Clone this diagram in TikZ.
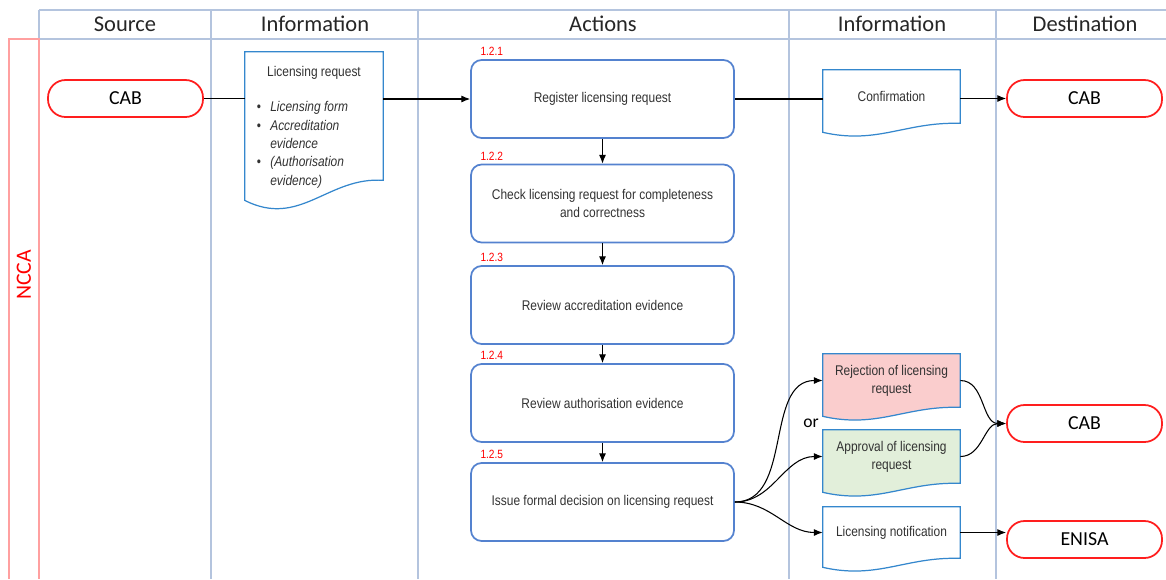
\documentclass[tikz,border=0pt]{standalone}
\usepackage{fontspec}
\setmainfont{Carlito}
\newfontfamily\narrowfont[FakeStretch=0.85]{Liberation Sans}
\usepackage{tikz}
\usetikzlibrary{arrows.meta, positioning, calc, backgrounds}

\definecolor{lanecol}{RGB}{180,196,222}
\definecolor{lanered}{RGB}{255,160,160}
\definecolor{boxblue}{RGB}{84,130,207}
\definecolor{docblue}{RGB}{52,135,205}
\definecolor{termred}{RGB}{255,30,30}
\definecolor{rejfill}{RGB}{250,205,205}
\definecolor{appfill}{RGB}{226,239,218}
\definecolor{txtgray}{RGB}{50,50,50}

\tikzset{
  lane/.style={draw=lanecol, line width=0.8pt},
  actbox/.style={draw=boxblue, line width=1pt, rounded corners=6pt, minimum width=5.26cm, minimum height=1.56cm, align=center, text=txtgray, font=\narrowfont\fontsize{8}{10.4}\selectfont},
  terminal/.style={draw=termred, line width=1pt, rounded corners=10pt, minimum width=3.1cm, minimum height=0.74cm, font=\fontsize{11.3}{13}\selectfont},
  docbox/.style={minimum width=2.74cm, inner sep=0pt, align=center, text=txtgray, font=\narrowfont\fontsize{8}{10.4}\selectfont},
  docline/.style={draw=docblue, line width=0.7pt},
  steplbl/.style={text=red, inner sep=0pt, font=\narrowfont\fontsize{6.8}{8}\selectfont},
  colhead/.style={text=black!85, font=\fontsize{12.8}{15}\selectfont},
  flow/.style={-{Latex[length=5pt,width=4pt]}, line width=0.6pt},
  plain/.style={line width=0.6pt}
}

% document outline with a wavy bottom: node, fill, wave depth
\newcommand{\docshape}[3]{%
  \begin{pgfonlayer}{background}
  \draw[docline, fill=#2] let \p1=(#1.south west), \p2=(#1.north east) in
    (#1.north west) -- (#1.north east) -- (#1.south east)
    .. controls ({\x1+0.6*(\x2-\x1)},{\y1+0.2*#3}) and ({\x1+0.4*(\x2-\x1)},{\y1-2.4*#3}) .. (\x1,{\y1-#3}) -- cycle;
  \end{pgfonlayer}}

\begin{document}
\begin{tikzpicture}[x=0.02cm, y=-0.02cm]
  \useasboundingbox (0,0) rectangle (1166,579);

  % lanes
  \draw[lane] (39,10) -- (1166,10);
  \draw[lane] (39,39) -- (1166,39);
  \draw[lane] (39,10) -- (39,39);
  \foreach \cx in {211,418,789,996}
    \draw[lane] (\cx,10) -- (\cx,579);
  \draw[draw=lanered, line width=0.8pt] (9,579) -- (9,39) -- (39,39) -- (39,579);

  \node[colhead] (hsrc) at (125,24) {Source};
  \node[colhead] (hinf1) at (315,24) {Information};
  \node[colhead] (hact) at (603,24) {Actions};
  \node[colhead] (hinf2) at (892,24) {Information};
  \node[colhead] (hdst) at (1085,24) {Destination};
  \node[text=red, rotate=90, font=\fontsize{12.4}{14}\selectfont] (ncca) at (24,275) {NCCA};

  % source and destinations
  \node[terminal] (src) at (125.5,98.5) {CAB};
  \node[terminal] (dcab1) at (1084.5,98.5) {CAB};
  \node[terminal] (dcab2) at (1084.5,423.5) {CAB};
  \node[terminal] (enisa) at (1084.5,539.5) {ENISA};

  % actions
  \node[actbox] (act1) at (602.5,99) {Register licensing request};
  \node[actbox] (act2) at (602.5,203.5) {Check licensing request for completeness\\and correctness};
  \node[actbox] (act3) at (602.5,305) {Review accreditation evidence};
  \node[actbox] (act4) at (602.5,403) {Review authorisation evidence};
  \node[actbox] (act5) at (602.5,502) {Issue formal decision on licensing request};

  \node[steplbl, above right=1.7pt and 0.2cm of act1.north west] (n1) {1.2.1};
  \node[steplbl, above right=1.7pt and 0.2cm of act2.north west] (n2) {1.2.2};
  \node[steplbl, above right=1.7pt and 0.2cm of act3.north west] (n3) {1.2.3};
  \node[steplbl, above right=1.7pt and 0.2cm of act4.north west] (n4) {1.2.4};
  \node[steplbl, above right=1.7pt and 0.2cm of act5.north west] (n5) {1.2.5};

  % information
  \node[docbox, minimum width=2.76cm, minimum height=2.56cm] (lreq) at (314,116) {\parbox[c][2.56cm][t]{2.76cm}{%
    \centering\vspace*{8.3pt}Licensing request\par\vspace{9.6pt}
    \raggedright\hspace*{6.8pt}\begin{tabular}[t]{@{}l@{\hspace{5.2pt}}l@{}}
      \textbullet & \textit{Licensing form}\\
      \textbullet & \textit{Accreditation}\\
                  & \textit{evidence}\\
      \textbullet & \textit{(Authorisation}\\
                  & \textit{evidence)}
    \end{tabular}}};
  \docshape{lreq}{white}{11.4pt}
  \node[docbox, minimum height=1.06cm] (conf) at (891.5,96.5) {Confirmation};
  \docshape{conf}{white}{5.1pt}
  \node[docbox, minimum height=1.06cm] (rej) at (891.5,380.5) {Rejection of licensing\\request};
  \docshape{rej}{rejfill}{5.1pt}
  \node[docbox, minimum height=1.06cm] (appr) at (891.5,456.5) {Approval of licensing\\request};
  \docshape{appr}{appfill}{5.1pt}
  \node[docbox, minimum height=1.02cm] (notif) at (891.5,532.5) {Licensing notification};
  \docshape{notif}{white}{5.1pt}
  \node[font=\fontsize{10}{12}\selectfont] (or) at (811,423) {or};

  % flow
  \draw[plain] (src.east) -- (src.east -| lreq.west);
  \draw[flow] (lreq.east |- act1.west) -- (act1.west);
  \draw[plain] (act1.east) -- (act1.east -| conf.west);
  \draw[flow] (conf.east |- dcab1.west) -- (dcab1.west);
  \foreach \a/\b in {act1/act2, act2/act3, act3/act4, act4/act5}
    \draw[flow] (\a.south) -- (\b.north);
  \draw[flow] (act5.east) to[out=0, in=180] (rej.west);
  \draw[flow] (act5.east) to[out=0, in=180] (appr.west);
  \draw[flow] (act5.east) to[out=0, in=180] (notif.west);
  \draw[flow] (rej.east) to[out=0, in=180] (dcab2.west);
  \draw[flow] (appr.east) to[out=0, in=180] (dcab2.west);
  \draw[flow] (notif.east) -- (notif.east -| enisa.west);
\end{tikzpicture}
\end{document}
